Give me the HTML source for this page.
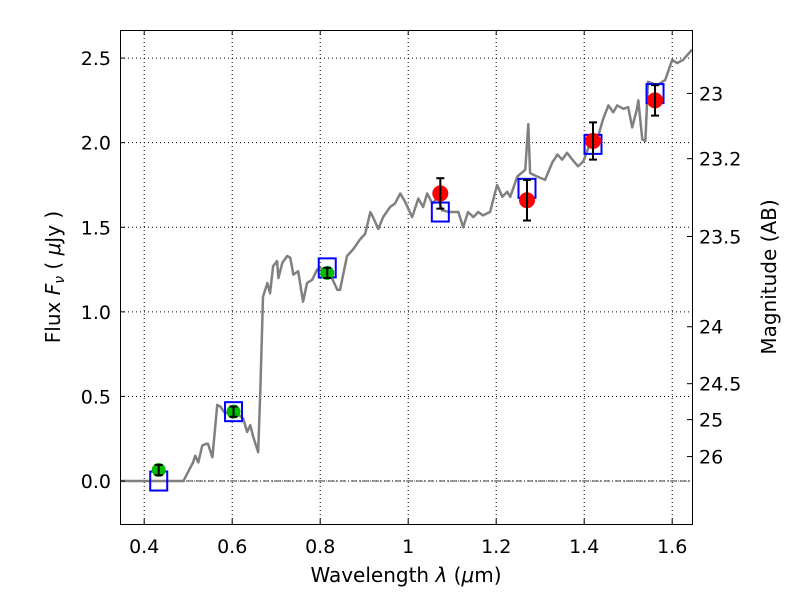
<!DOCTYPE html>
<html><head><meta charset="utf-8"><style>
body{margin:0;background:#fff}
svg text{font-family:"DejaVu Sans","Liberation Sans",sans-serif;fill:#000}
</style></head><body>
<svg id="chart" width="800" height="600" xmlns="http://www.w3.org/2000/svg">
<g id="grid"></g>
<g id="marks"></g>
<rect x="120.5" y="30.5" width="572" height="494" fill="none" stroke="#000" stroke-width="1"/>
<g id="axes"></g>
<text x="406" y="582" font-size="20" text-anchor="middle">Wavelength  <tspan font-style="italic">λ</tspan> (<tspan font-style="italic">μ</tspan>m)</text>
<text transform="translate(60,277) rotate(-90)" font-size="20" text-anchor="middle">Flux  <tspan font-style="italic">F</tspan><tspan font-style="italic" font-size="14" dy="4">ν</tspan><tspan dy="-4">  ( </tspan><tspan font-style="italic">μ</tspan>Jy )</text>
<text transform="translate(776,277) rotate(-90)" font-size="20" text-anchor="middle">Magnitude (AB)</text>
</svg>
<script>
const specLam=[0.345,0.489,0.511,0.516,0.523,0.532,0.541,0.545,0.555,0.566,0.573,0.584,0.6,0.625,0.634,0.641,0.648,0.659,0.664,0.670,0.680,0.686,0.693,0.702,0.705,0.714,0.725,0.732,0.739,0.750,0.761,0.770,0.782,0.793,0.800,0.823,0.839,0.845,0.861,0.875,0.891,0.902,0.914,0.920,0.932,0.943,0.959,0.970,0.982,0.993,1.009,1.023,1.034,1.043,1.055,1.068,1.077,1.095,1.114,1.125,1.136,1.148,1.159,1.170,1.186,1.202,1.214,1.225,1.232,1.248,1.266,1.273,1.277,1.293,1.311,1.327,1.339,1.350,1.361,1.373,1.386,1.398,1.414,1.432,1.443,1.455,1.466,1.475,1.489,1.500,1.509,1.520,1.523,1.532,1.539,1.545,1.566,1.584,1.600,1.611,1.625,1.645];
const specFlux=[0,0,0.11,0.15,0.11,0.21,0.22,0.22,0.14,0.45,0.44,0.40,0.42,0.37,0.29,0.33,0.26,0.17,0.54,1.09,1.17,1.11,1.27,1.30,1.20,1.29,1.33,1.32,1.22,1.24,1.06,1.17,1.19,1.25,1.26,1.22,1.13,1.13,1.33,1.37,1.43,1.46,1.59,1.56,1.49,1.56,1.62,1.64,1.70,1.65,1.56,1.67,1.62,1.70,1.64,1.68,1.60,1.59,1.59,1.50,1.59,1.56,1.59,1.57,1.59,1.75,1.68,1.71,1.68,1.80,1.84,2.11,1.82,1.80,1.78,1.88,1.93,1.90,1.94,1.90,1.86,1.89,2.00,2.04,2.14,2.22,2.18,2.22,2.20,2.21,2.09,2.20,2.25,2.02,2.01,2.36,2.34,2.37,2.49,2.47,2.49,2.55];
const optLam=[0.433,0.603,0.816];
const optFlux=[0.065,0.41,1.23];
const optErr=[0.03,0.03,0.03];
const irLam=[1.073,1.27,1.42,1.561];
const irFlux=[1.70,1.66,2.01,2.25];
const irErr=[0.09,0.12,0.11,0.09];
const modLam=[0.433,0.603,0.816,1.073,1.27,1.42,1.561];
const modFlux=[0.0,0.41,1.26,1.59,1.73,1.99,2.29];
const xTicks=[0.4,0.6,0.8,1.0,1.2,1.4,1.6];
const xTickLabels=["0.4","0.6","0.8","1","1.2","1.4","1.6"];
const yTicks=[0,0.5,1.0,1.5,2.0,2.5];
const yTickLabels=["0.0","0.5","1.0","1.5","2.0","2.5"];
const magTicks=[23,23.2,23.5,24,24.5,25,26];
const magTickLabels=["23","23.2","23.5","24","24.5","25","26"];

const X0=0.345,X1=1.645,Y0=-0.254,Y1=2.666,L=120,R=692,T=30,B=524;
const sx=v=>L+(v-X0)/(X1-X0)*(R-L);
const sy=v=>B-(v-Y0)/(Y1-Y0)*(B-T);
const NS="http://www.w3.org/2000/svg";
function mk(tag,parent,attrs){const e=document.createElementNS(NS,tag);for(const k in attrs)e.setAttribute(k,attrs[k]);parent.appendChild(e);return e;}
const grid=document.getElementById('grid'),marks=document.getElementById('marks'),axes=document.getElementById('axes');

xTicks.forEach((t,i)=>{const x=sx(t);
 const g=mk('line',grid,{x1:x,x2:x,y1:T,y2:B,stroke:'#000','stroke-width':1,'stroke-dasharray':'1,3'});
 
 const a=mk('line',axes,{x1:x,x2:x,y1:B,y2:B-5,stroke:'#000'});
 const b=mk('line',axes,{x1:x,x2:x,y1:T,y2:T+5,stroke:'#000'});
 const tx=mk('text',axes,{x:x,y:553,'font-size':19,'text-anchor':'middle'});tx.textContent=xTickLabels[i];
 });
yTicks.forEach((t,i)=>{const y=sy(t);
 const g=mk('line',grid,{x1:L,x2:R,y1:y,y2:y,stroke:'#000','stroke-width':1,'stroke-dasharray':'1,3'});
 
 const a=mk('line',axes,{x1:L,x2:L+5,y1:y,y2:y,stroke:'#000'});
 const tx=mk('text',axes,{x:111,y:y+7,'font-size':19,'text-anchor':'end'});tx.textContent=yTickLabels[i];
 });
magTicks.forEach((m,i)=>{const y=sy(Math.pow(10,(23.9-m)/2.5));
 const a=mk('line',axes,{x1:R-5,x2:R,y1:y,y2:y,stroke:'#000'});
 const tx=mk('text',axes,{x:699,y:y+7,'font-size':19});tx.textContent=magTickLabels[i];
 });
const zl=mk('line',grid,{x1:L,x2:R,y1:sy(0),y2:sy(0),stroke:'#000','stroke-width':0.8,'stroke-dasharray':'6,2,1,2'});


const sp=mk('polyline',marks,{points:specLam.map((l,i)=>sx(l)+','+sy(specFlux[i])).join(' '),fill:'none',stroke:'#808080','stroke-width':2.5,'stroke-linejoin':'round'});


modLam.forEach((l,i)=>{const r=mk('rect',marks,{x:sx(l)-8.5,y:sy(modFlux[i])-9.5,width:17,height:19,fill:'none',stroke:'#0000ff','stroke-width':2});
 });
function pts(lams,fl,er,col,rad,nm){lams.forEach((l,i)=>{const x=sx(l);
 const c=mk('circle',marks,{cx:x,cy:sy(fl[i]),r:rad,fill:col});
 const g=mk('g',marks,{stroke:'#000','stroke-width':2});
 const y1=sy(fl[i]-er[i]),y2=sy(fl[i]+er[i]);
 mk('line',g,{x1:x,x2:x,y1:y1,y2:y2});mk('line',g,{x1:x-4,x2:x+4,y1:y1,y2:y1});mk('line',g,{x1:x-4,x2:x+4,y1:y2,y2:y2});});}
pts(optLam,optFlux,optErr,'#00bb00',7,'optical-point');
pts(irLam,irFlux,irErr,'#ff0000',8,'ir-point');
</script>
</body></html>
